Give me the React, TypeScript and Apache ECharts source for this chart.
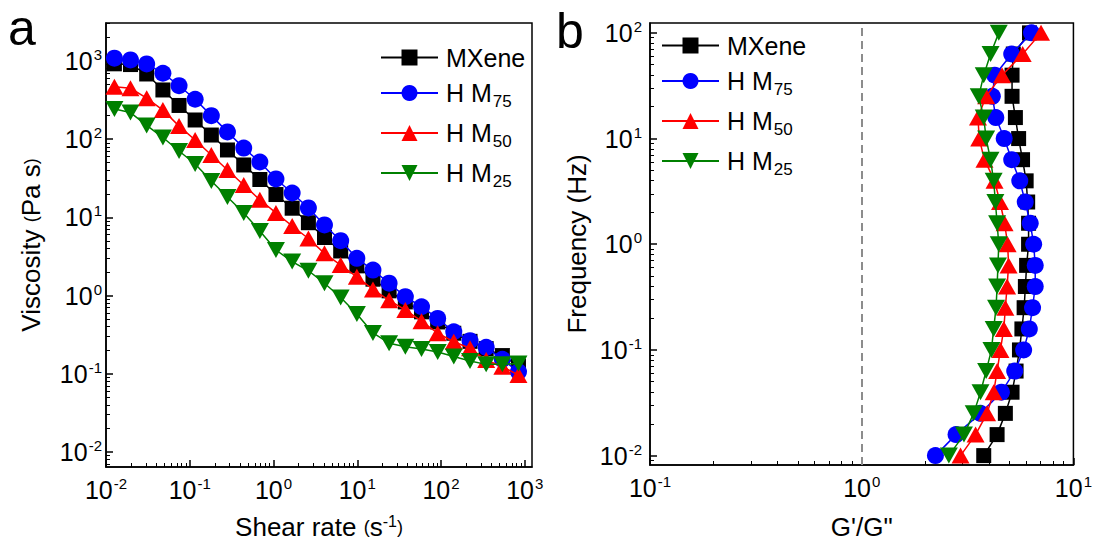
import React, { useEffect, useRef } from 'react';
import * as echarts from 'echarts';

const FONT = "'Liberation Sans', Arial, Helvetica, sans-serif";

// ---- series definitions ----
const seriesNames = ['MXene', 'H M75', 'H M50', 'H M25'];
const seriesColors = ['#000000', '#0000ff', '#ff0000', '#008000'];
const seriesSymbols = ['rect', 'circle', 'triangle', 'path://M0,0L16,0L8,14Z'];
const seriesSymbolSizes: any[] = [15, 17, [18, 16], [18, 16]];

// ---- panel a: viscosity vs shear rate ----
const shearRate = [0.0126, 0.0196, 0.0306, 0.0478, 0.0745, 0.116, 0.181, 0.282, 0.441, 0.687, 1.07, 1.67, 2.61, 4.06, 6.34, 9.89, 15.4, 24.0, 37.5, 58.5, 91.2, 142, 222, 346, 540, 841];
const viscMXene = [920, 900, 682, 426, 270, 176, 113, 72.8, 46.8, 30.5, 19.6, 13.1, 8.55, 5.53, 3.72, 2.4, 1.62, 1.15, 0.83, 0.62, 0.46, 0.33, 0.26, 0.21, 0.171, 0.126];
const viscHM75 = [1085, 1030, 916, 697, 483, 324, 200, 124, 77.1, 51.1, 31.0, 20.5, 13.2, 8.0, 5.03, 3.0, 2.12, 1.44, 0.97, 0.72, 0.51, 0.345, 0.265, 0.218, 0.153, 0.106];
const viscHM50 = [469, 448, 334, 236, 147, 97.7, 62.8, 40.4, 25.9, 16.8, 11.4, 7.76, 5.37, 3.47, 2.46, 1.74, 1.2, 0.87, 0.655, 0.471, 0.33, 0.257, 0.212, 0.15, 0.123, 0.0966];
const viscHM25 = [243, 219, 150, 105, 70.6, 48.2, 29.2, 18.2, 11.4, 6.7, 3.83, 2.72, 2.08, 1.44, 0.946, 0.582, 0.333, 0.246, 0.222, 0.208, 0.19, 0.166, 0.146, 0.132, 0.132, 0.135];
const viscosity = [viscMXene, viscHM75, viscHM50, viscHM25];

// ---- panel b: frequency vs G'/G'' ----
const frequency = [0.01, 0.0158, 0.0251, 0.0398, 0.0631, 0.1, 0.158, 0.251, 0.398, 0.631, 1, 1.58, 2.51, 3.98, 6.31, 10, 15.8, 25.1, 39.8, 63.1, 100];
const ratioMXene = [3.77, 4.36, 4.77, 5.13, 5.36, 5.56, 5.71, 5.85, 5.93, 6.01, 6.14, 6.14, 6.08, 5.98, 5.75, 5.51, 5.32, 5.13, 5.13, 5.2, 6.2];
const ratioHM75 = [2.23, 2.79, 3.64, 4.57, 5.28, 5.82, 6.19, 6.41, 6.6, 6.6, 6.49, 6.25, 5.92, 5.58, 5.11, 4.71, 4.3, 4.14, 4.25, 5.11, 6.34];
const ratioHM50 = [2.93, 3.45, 3.91, 4.2, 4.36, 4.52, 4.69, 4.77, 4.86, 4.94, 4.89, 4.73, 4.5, 4.24, 3.8, 3.59, 3.54, 3.87, 4.6, 5.76, 7.03];
const ratioHM25 = [2.58, 3.04, 3.38, 3.64, 3.87, 4.1, 4.2, 4.31, 4.36, 4.4, 4.44, 4.36, 4.28, 4.2, 4.06, 3.87, 3.77, 3.57, 3.77, 4.06, 4.44];
const ratio = [ratioMXene, ratioHM75, ratioHM50, ratioHM25];

// ---- tick values ----
const ticksA_X = [0.01, 0.1, 1, 10, 100, 1000];
const ticksA_Y = [0.01, 0.1, 1, 10, 100, 1000];
const ticksB_X = [0.1, 1, 10];
const ticksB_Y = [0.01, 0.1, 1, 10, 100];
const referenceRatio = 1;

function minorTicks(lo: number, hi: number) {
  const out: number[] = [];
  for (let e = -4; e <= 4; e++) {
    for (let m = 2; m <= 9; m++) {
      const v = +(m * Math.pow(10, e)).toPrecision(3);
      if (v > lo && v < hi) out.push(v);
    }
  }
  return out;
}

const tickRich = {
  b: { fontSize: 25, lineHeight: 28, fontFamily: FONT, color: '#000', verticalAlign: 'middle' },
  sup: { fontSize: 15, lineHeight: 15, verticalAlign: 'top', fontFamily: FONT, color: '#000', padding: [0, 0, 0, 1] },
};
const nameRich = {
  t: { fontSize: 26, lineHeight: 28, fontFamily: FONT, color: '#000', verticalAlign: 'middle' },
  p: { fontSize: 18, lineHeight: 28, fontFamily: FONT, color: '#000', verticalAlign: 'middle' },
  sup: { fontSize: 16, lineHeight: 15, verticalAlign: 'top', fontFamily: FONT, color: '#000' },
};

function powLabel(v: number) {
  const e = Math.round(Math.log10(v));
  return '{b|10}{sup|' + e + '}';
}

function majorAxis(gridIndex: number, min: number, max: number, ticks: number[], margin: number, name: string, nameGap: number, position: string) {
  return {
    type: 'log',
    logBase: 10,
    gridIndex,
    min,
    max,
    position,
    name,
    nameLocation: 'middle',
    nameGap,
    nameTextStyle: { fontFamily: FONT, fontSize: 26, color: '#000', rich: nameRich },
    axisLine: { show: true, onZero: false, lineStyle: { color: '#000', width: 1.5 } },
    axisTick: { show: true, inside: true, length: 7, customValues: ticks, lineStyle: { color: '#000', width: 1.5 } },
    axisLabel: { show: true, margin, customValues: ticks, formatter: powLabel, rich: tickRich, fontFamily: FONT, fontSize: 25, color: '#000' },
    splitLine: { show: false },
    minorTick: { show: false },
  };
}

function minorAxis(gridIndex: number, min: number, max: number, position: string) {
  return {
    type: 'log',
    logBase: 10,
    gridIndex,
    min,
    max,
    position,
    axisLine: { show: false, onZero: false },
    axisTick: { show: true, inside: true, length: 4, customValues: minorTicks(min, max), lineStyle: { color: '#000', width: 1 } },
    axisLabel: { show: false },
    splitLine: { show: false },
  };
}

const A_X_MIN = 0.01, A_X_MAX = 1220, A_Y_MIN = 0.00643, A_Y_MAX = 3060;
const B_X_MIN = 0.1, B_X_MAX = 10, B_Y_MIN = 0.00815, B_Y_MAX = 124;

function legendFormatter(name: string) {
  if (name.indexOf('H M') === 0) return '{t|H M}{sub|' + name.slice(3) + '}';
  return '{t|' + name + '}';
}
const legendRich = {
  t: { fontSize: 25, lineHeight: 26, fontFamily: FONT, color: '#000', verticalAlign: 'middle' },
  sub: { fontSize: 17, lineHeight: 8, verticalAlign: 'top', fontFamily: FONT, color: '#000', padding: [13, 0, 0, 1] },
};
function makeLegend(left: number, top: number) {
  return {
    orient: 'vertical',
    left,
    top,
    padding: 0,
    itemWidth: 57,
    itemHeight: 20,
    itemGap: 10,
    selectedMode: false,
    data: seriesNames,
    formatter: legendFormatter,
    textStyle: { fontFamily: FONT, fontSize: 25, color: '#000', rich: legendRich, padding: [0, 0, 0, 3] },
  };
}

export default function App() {
  const ref = useRef<HTMLDivElement>(null);
  useEffect(() => {
    if (!ref.current) return;
    const chart = echarts.init(ref.current, undefined, { renderer: 'svg' });

    const series: any[] = [];
    seriesNames.forEach((n, i) => {
      series.push({
        type: 'line',
        name: n,
        xAxisIndex: 0,
        yAxisIndex: 0,
        data: shearRate.map((x, k) => [x, viscosity[i][k]]),
        symbol: seriesSymbols[i],
        symbolSize: seriesSymbolSizes[i],
        showAllSymbol: true,
        color: seriesColors[i],
        itemStyle: { color: seriesColors[i], opacity: 1 },
        lineStyle: { color: seriesColors[i], width: 1.5 },
        z: 2 + i,
      });
    });
    seriesNames.forEach((n, i) => {
      const s: any = {
        type: 'line',
        name: n,
        xAxisIndex: 2,
        yAxisIndex: 2,
        data: frequency.map((f, k) => [ratio[i][k], f]),
        symbol: seriesSymbols[i],
        symbolSize: seriesSymbolSizes[i],
        showAllSymbol: true,
        color: seriesColors[i],
        itemStyle: { color: seriesColors[i], opacity: 1 },
        lineStyle: { color: seriesColors[i], width: 1.5 },
        z: 2 + i,
      };
      if (i === 0) {
        s.markLine = {
          silent: true,
          symbol: ['none', 'none'],
          label: { show: false },
          lineStyle: { color: '#8c8c8c', type: [8, 5], width: 2 },
          data: [{ xAxis: referenceRatio }],
        };
      }
      series.push(s);
    });

    chart.setOption({
      animation: false,
      backgroundColor: '#ffffff',
      textStyle: { fontFamily: FONT },
      grid: [
        { left: 106, top: 23, width: 426, height: 444, show: true, borderColor: '#000', borderWidth: 1.5, backgroundColor: 'transparent' },
        { left: 650, top: 23, width: 425, height: 444, show: true, borderColor: '#000', borderWidth: 1.5, backgroundColor: 'transparent' },
      ],
      xAxis: [
        majorAxis(0, A_X_MIN, A_X_MAX, ticksA_X, 9, '{t|Shear rate }{p|(}{t|s}{sup|-1}{p|)}', 46, 'bottom'),
        minorAxis(0, A_X_MIN, A_X_MAX, 'bottom'),
        majorAxis(1, B_X_MIN, B_X_MAX, ticksB_X, 9, '{t|G\'/G"}', 48, 'bottom'),
        minorAxis(1, B_X_MIN, B_X_MAX, 'bottom'),
      ],
      yAxis: [
        majorAxis(0, A_Y_MIN, A_Y_MAX, ticksA_Y, 4, '{t|Viscosity }{p|(}{t|Pa s}{p|)}', 61, 'left'),
        minorAxis(0, A_Y_MIN, A_Y_MAX, 'left'),
        majorAxis(1, B_Y_MIN, B_Y_MAX, ticksB_Y, 8, '{t|Frequency (Hz)}', 59, 'left'),
        minorAxis(1, B_Y_MIN, B_Y_MAX, 'left'),
      ],
      legend: [makeLegend(380, 45), makeLegend(661, 33)],
      graphic: [
        { type: 'text', left: 8, top: 3, style: { text: 'a', font: '50px ' + FONT, fill: '#000' } },
        { type: 'text', left: 556, top: 6, style: { text: 'b', font: '50px ' + FONT, fill: '#000' } },
      ],
      series,
    });
    return () => chart.dispose();
  }, []);
  return <div ref={ref} style={{ position: 'fixed', left: 0, top: 0, width: 1095, height: 545, background: '#fff' }} />;
}
